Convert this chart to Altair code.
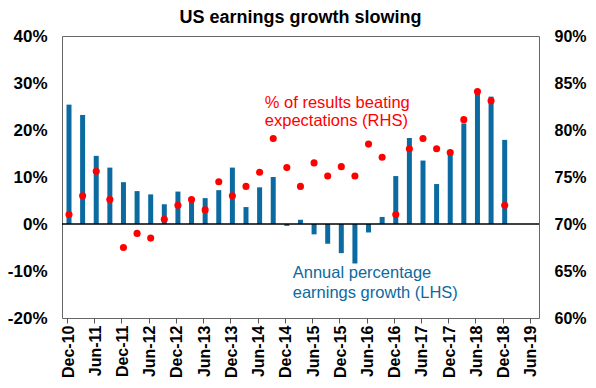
import altair as alt
import pandas as pd

quarters = ["Dec-10", "Mar-11", "Jun-11", "Sep-11", "Dec-11", "Mar-12", "Jun-12", "Sep-12",
            "Dec-12", "Mar-13", "Jun-13", "Sep-13", "Dec-13", "Mar-14", "Jun-14", "Sep-14",
            "Dec-14", "Mar-15", "Jun-15", "Sep-15", "Dec-15", "Mar-16", "Jun-16", "Sep-16",
            "Dec-16", "Mar-17", "Jun-17", "Sep-17", "Dec-17", "Mar-18", "Jun-18", "Sep-18",
            "Dec-18"]
growth = [25.4, 23.2, 14.5, 12.0, 8.9, 7.0, 6.3, 4.2, 6.9, 4.9, 5.5, 7.2, 12.0, 3.6, 7.8,
          10.0, -0.4, 0.9, -2.2, -4.2, -6.2, -8.4, -1.8, 1.5, 10.2, 18.3, 13.5, 8.5, 15.1,
          21.4, 28.3, 27.1, 17.9]
beat = [71.0, 73.0, 75.6, 72.6, 67.5, 69.0, 68.5, 70.5, 72.0, 72.6, 71.5, 74.5, 73.0, 74.0,
        75.5, 79.1, 76.0, 74.0, 76.5, 75.1, 76.1, 75.1, 78.5, 77.1, 71.0, 78.0, 79.1, 78.0,
        77.6, 81.1, 84.1, 83.1, 72.0]
tick_labels = ["Dec-10", "Jun-11", "Dec-11", "Jun-12", "Dec-12", "Jun-13", "Dec-13", "Jun-14",
               "Dec-14", "Jun-15", "Dec-15", "Jun-16", "Dec-16", "Jun-17", "Dec-17", "Jun-18",
               "Dec-18", "Jun-19"]
left_ticks = [-20, -10, 0, 10, 20, 30, 40]
right_ticks = [60, 65, 70, 75, 80, 85, 90]

FONT = "Liberation Sans"
BLUE = "#0b6a9f"
RED = "#ff0000"
LEFT_DOMAIN = [-20, 40]
RIGHT_DOMAIN = [60, 90]

df = pd.DataFrame({"q": list(range(len(growth))), "quarter": quarters,
                   "growth": growth, "beat": beat})
zero_df = pd.DataFrame({"y": [0]})
red_note = pd.DataFrame({"x": [14.53], "y": [24.7],
                         "text": ["% of results beating\nexpectations (RHS)"]})
blue_note = pd.DataFrame({"x": [16.58], "y": [-11.55],
                          "text": ["Annual percentage\nearnings growth (LHS)"]})

tick_pos = [2 * i for i in range(len(tick_labels))]
label_expr = "[" + ",".join(f"'{t}'" for t in tick_labels) + "][round(datum.value / 2)]"

xscale = alt.Scale(domain=[0, 34.3], nice=False, zero=False)
x_axis = alt.Axis(values=tick_pos, labelExpr=label_expr, labelAngle=270,
                  labelFont=FONT, labelFontSize=16, labelFontWeight="bold",
                  labelColor="black", tickColor="#555", tickSize=5, domain=False,
                  grid=False, title=None, labelPadding=2, labelOffset=1)
lscale = alt.Scale(domain=LEFT_DOMAIN, nice=False, zero=False)
rscale = alt.Scale(domain=RIGHT_DOMAIN, nice=False, zero=False)
l_axis = alt.Axis(orient="left", values=left_ticks, labelExpr="datum.value + '%'",
                  labelFont=FONT, labelFontSize=17, labelFontWeight="bold",
                  labelColor="black", ticks=False, domain=False, grid=False,
                  title=None, labelPadding=15)
r_axis = alt.Axis(orient="right", values=right_ticks, labelExpr="datum.value + '%'",
                  labelFont=FONT, labelFontSize=16, labelFontWeight="bold",
                  labelColor="black", ticks=False, domain=False, grid=False,
                  title=None, labelPadding=15)

X = lambda f: alt.X(f, scale=xscale, axis=x_axis)
YL = lambda f: alt.Y(f, scale=lscale, axis=l_axis)

bars = alt.Chart(df).mark_bar(color=BLUE, width=5, xOffset=2).encode(
    x=X("q:Q"), y=YL("growth:Q"), y2=alt.datum(0),
)

zero_rule = alt.Chart(zero_df).mark_rule(color="black", strokeWidth=1.3).encode(
    y=YL("y:Q")
)

blue_text = alt.Chart(blue_note).mark_text(
    align="left", baseline="alphabetic", lineBreak="\n", lineHeight=19.5,
    font=FONT, fontSize=16.5, color=BLUE
).encode(x=X("x:Q"), y=YL("y:Q"), text="text:N")

red_text = alt.Chart(red_note).mark_text(
    align="left", baseline="alphabetic", lineBreak="\n", lineHeight=18.5,
    font=FONT, fontSize=16.5, color=RED
).encode(x=X("x:Q"), y=YL("y:Q"), text="text:N")

dots = alt.Chart(df).mark_point(filled=True, color=RED, size=50, opacity=1, xOffset=2).encode(
    x=X("q:Q"),
    y=alt.Y("beat:Q", scale=rscale, axis=r_axis),
)

left = alt.layer(bars, zero_rule, blue_text, red_text)
chart = alt.layer(left, dots).resolve_scale(y="independent").properties(
    width=477, height=282,
    autosize=alt.AutoSizeParams(type="none"),
    padding={"left": 54, "top": 28, "right": 49, "bottom": 62},
    title=alt.TitleParams("US earnings growth slowing", font=FONT, fontSize=18,
                          fontWeight="bold", anchor="middle", color="black",
                          offset=4, dy=4),
).configure_view(stroke="#666", strokeWidth=1)

chart.save("out.html", embed_options={"renderer": "svg", "actions": False})
